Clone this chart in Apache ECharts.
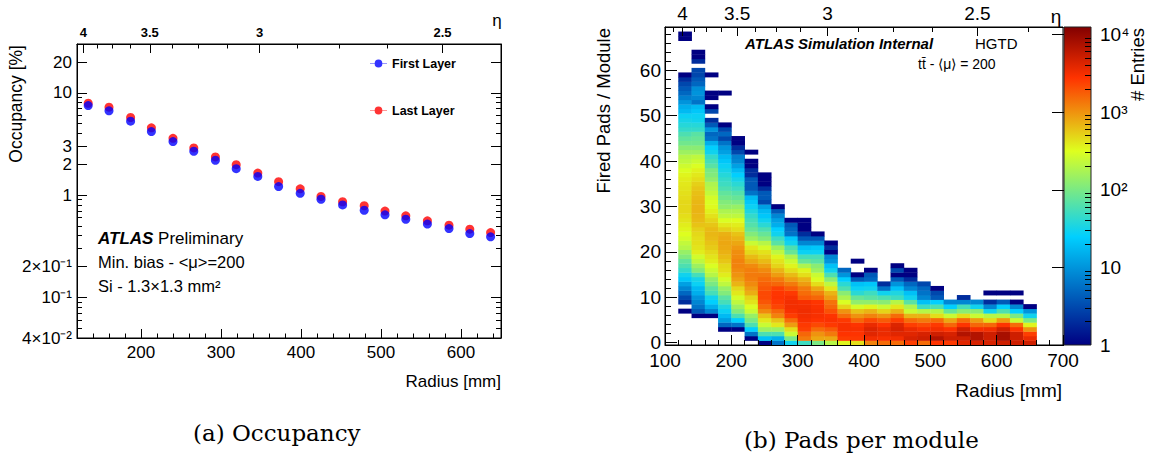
<!DOCTYPE html>
<html><head><meta charset="utf-8">
<script src="https://cdn.jsdelivr.net/npm/echarts@6/dist/echarts.min.js"></script>
<style>html,body{margin:0;padding:0;background:#fff;}#chart{width:1150px;height:459px;}</style>
</head><body><div id="chart"></div>
<script>
// ---------------- data: (a) Occupancy ----------------
const layerRadius = [134,160,187,213,240,266,293,319,346,372,399,425,452,479,505,531,558,585,611,637];
const firstLayer  = [7.5,6.66,5.28,4.18,3.33,2.68,2.19,1.81,1.52,1.21,1.04,0.91,0.80,0.71,0.64,0.58,0.52,0.47,0.42,0.39];
const lastLayer   = [7.9,7.24,5.73,4.54,3.59,2.89,2.36,1.98,1.64,1.35,1.15,0.97,0.86,0.786,0.697,0.627,0.56,0.508,0.464,0.43];
const occTicks    = [0.04,0.1,0.2,1,2,3,10,20];
const occTickText = ['4×10⁻²','10⁻¹','2×10⁻¹','1','2','3','10','20'];
const radiusTicksA = [200,300,400,500,600];
const etaLabels = [4,3.5,3,2.5];

// ---------------- data: (b) Pads per module ----------------
const binLow   = [120,140,160,180,200,220,240,260,280,300,320,340,360,380,400,420,440,460,480,500,520,540,560,580,600,620,640];
const firstBin = [7,6,6,3,3,1,0,0,0,0,0,0,0,0,0,0,0,0,0,0,0,0,0,0,0,0,0];
const r120 = [1,0,2,3,5,8,12,22,30,45,60,75,110,140,200,230,280,320,350,380,420,450,480,480,480,460,440,420,400,380,350,300,260,220,200,150,120,90,75,60,45,38,32,28,18,15,10,7,5,4,3,2,1,0,0,0,0,0,0,0,1,1];
const r140 = [1,4,6,8,10,15,18,28,32,55,110,150,220,270,380,420,450,450,480,520,600,650,680,700,700,680,650,620,580,520,450,400,360,300,250,220,150,120,90,80,70,45,38,30,28,22,18,6,8,10,9,5,4,3,3,0,2,1,1];
const r160 = [1,8,15,25,30,55,70,100,130,200,250,300,380,420,480,550,600,650,680,650,580,500,430,370,330,300,280,230,200,180,130,110,100,70,55,45,30,25,15,6,5,10,4,2,0,3,1,0,1,1,0,0,0,1];
const r180 = [1,5,12,18,28,35,55,70,110,140,220,280,380,450,480,580,650,720,780,800,780,720,520,400,300,220,180,130,110,90,75,60,50,45,38,32,28,22,18,12,10,6,3,5,3,1,0,0,0,0,0,0,1];
const r200 = [1,6,25,60,110,150,220,280,400,480,700,850,1000,1100,1200,1200,1100,1050,950,800,700,600,450,380,320,220,180,140,100,80,65,50,40,32,25,18,12,8,7,3,2,1,1];
const r220 = [1,6,25,60,100,140,250,300,420,500,750,900,1100,1250,1300,1250,1100,800,650,480,400,250,150,110,80,65,55,45,35,28,22,18,6,4,4,4,2,2,1,1,0,1];
const r240 = [1,20,60,150,250,400,600,1100,1500,1900,2200,2200,1900,1700,1500,1300,1100,850,650,520,430,280,200,110,80,60,40,30,22,18,12,3,4,4,2,1,1,1];
const r260 = [6,15,60,150,400,600,1200,1600,2300,2600,2800,2700,2400,1600,1300,900,700,500,420,350,220,150,70,50,30,25,15,12,8,4,1];
const r280 = [30,100,250,450,900,1500,2500,3000,3200,3200,3000,2600,1800,1300,900,650,450,350,250,180,80,60,30,22,6,5,4,1];
const r300 = [50,1300,1600,2400,2600,3000,3200,3300,3200,3000,1800,1500,1300,900,700,450,350,180,80,55,28,20,8,4,2,1,1,1];
const r320 = [100,800,1000,1500,2200,2800,3000,3000,2900,2700,1600,1200,800,450,300,250,150,120,70,55,28,22,8,4,1];
const r340 = [200,800,1300,1800,2600,2900,2800,2000,1600,1400,900,700,400,220,120,60,30,20,10,8,1,2,1];
const r360 = [350,2500,2800,3000,3000,2600,1500,1000,500,300,180,120,60,40,25,10,5];
const r380 = [450,2600,2800,3000,2800,1600,1000,600,280,130,80,40,28,20,4,1,0,0,1];
const r400 = [1200,3200,4000,4200,3500,2200,1200,700,350,130,70,50,30,22,5,4,1];
const r420 = [1500,3000,3500,3500,2800,1800,1000,500,250,120,60,30,6,2];
const r440 = [1500,3200,4000,4500,4200,2500,1500,700,400,200,50,35,20,10,4,1,3,1];
const r460 = [2500,4500,4000,3500,2500,1500,700,250,180,70,30,20,8,5,2,1,1];
const r480 = [1500,5000,4500,3000,2200,1300,700,200,50,20,8,6,5,3];
const r500 = [2800,7000,5000,3200,2600,1500,450,200,60,25,4,3,1];
const r520 = [2600,5000,4500,2800,1600,800,250,80,25,8];
const r540 = [4000,5000,7000,5000,2800,1500,450,120,55,8,2];
const r560 = [4500,7000,7000,3000,1600,900,250,120,30,8];
const r580 = [4500,5000,5000,3200,1600,450,200,30,8,2,0,1];
const r600 = [5000,8000,8000,5000,2800,900,200,60,25,4,0,1];
const r620 = [5000,5000,5000,2800,1500,250,100,25,8,1,0,1];
const r640 = [5000,3500,2500,1000,350,100,30,10,1];
const padTicks = [0,10,20,30,40,50,60];
const radiusTicksB = [100,200,300,400,500,600,700];
const entriesTicks = [1,10,100,1000,10000];
const entriesText = ['1','10','10²','10³','10⁴'];

// ---------------- layout / style constants ----------------
const FONT = '"Liberation Sans", Arial, Helvetica, sans-serif';
const SERIF = '"DejaVu Serif", serif';
const binWidth = 20;
const zMax = 12500;
const etaZA = 3490, etaZB = 3455;

const columns = [r120,r140,r160,r180,r200,r220,r240,r260,r280,r300,r320,r340,r360,r380,r400,r420,r440,r460,r480,r500,r520,r540,r560,r580,r600,r620,r640];
const cells = [];
columns.forEach((col, i) => col.forEach((n, j) => {
  if (n > 0) { const v = firstBin[i] + j; cells.push([binLow[i], binLow[i] + binWidth, v - 0.5, v + 0.5, n, Math.log10(n)]); }
}));

// ROOT-style rainbow palette
const pStops = [0,0.34,0.61,0.84,1], pR = [0,0,0.87,1,0.51], pG = [0,0.81,1,0.2,0], pB = [0.51,1,0.12,0,0];
function pal(f) {
  let k = 0; while (k < pStops.length - 2 && f > pStops[k+1]) k++;
  const t = (f - pStops[k]) / (pStops[k+1] - pStops[k]);
  const c = a => Math.round(255 * (a[k] + (a[k+1] - a[k]) * t));
  return 'rgb(' + c(pR) + ',' + c(pG) + ',' + c(pB) + ')';
}
const palColors = []; for (let i = 0; i <= 100; i++) palColors.push(pal(i / 100));
const gradStops = pStops.map((s, i) => ({offset: s, color: pal(s)}));

// tick helpers
const minorA = []; for (let r = 140; r < 650; r += 20) if (r % 100) minorA.push(r);
const minorB = []; for (let r = 120; r < 700; r += 20) if (r % 100) minorB.push(r);
const occMinor = [];
for (let n = -2; n <= 1; n++) for (let k = 1; k <= 9; k++) {
  const v = +(k * Math.pow(10, n)).toPrecision(6);
  if (v > 0.0401 && v < 29.9 && occTicks.indexOf(v) < 0) occMinor.push(v);
}
const padMinor = []; for (let v = 2; v <= 68; v += 2) if (v % 10) padMinor.push(v);
const entMinor = []; for (let n = 0; n <= 3; n++) for (let k = 2; k <= 9; k++) entMinor.push(k * Math.pow(10, n));
function etaMajor(Z) { return etaLabels.map(e => Z / Math.sinh(e)); }
function etaMinor(Z, lo, hi) {
  const out = [];
  for (let e = 4.375; e >= 2.125; e -= 0.125) { if (Math.abs(e * 2 - Math.round(e * 2)) > 1e-6) { const r = Z / Math.sinh(e); if (r > lo && r < hi) out.push(r); } }
  return out;
}
function etaFmt(Z) { return v => { let s = ''; etaLabels.forEach(e => { if (Math.abs(Z / Math.sinh(e) - v) < 0.01) s = String(e); }); return s; }; }
function lookupFmt(vals, texts) { return v => { let s = ''; vals.forEach((x, i) => { if (Math.abs(x - v) / x < 1e-4) s = texts[i]; }); return s; }; }

const blk = {color: '#000', width: 1};
function ax(o) {
  return Object.assign({type: 'value', z: 5, splitLine: {show: false}, axisLine: {show: false, onZero: false, lineStyle: blk}, axisPointer: {show: false}}, o);
}
function ticks(vals, len) { return {show: true, inside: true, length: len, customValues: vals, lineStyle: blk}; }
const noLabel = {show: false};

const chart = echarts.init(document.getElementById('chart'), null, {renderer: 'svg'});
const option = {
  animation: false,
  backgroundColor: '#fff',
  textStyle: {fontFamily: FONT},
  grid: [
    {left: 77, top: 44, width: 424, height: 294, show: true, borderColor: '#000', borderWidth: 1, backgroundColor: 'transparent'},
    {left: 665, top: 27, width: 398, height: 318, show: true, borderColor: '#000', borderWidth: 1, backgroundColor: 'transparent'},
    {left: 1064, top: 27, width: 27, height: 318, show: false}
  ],
  xAxis: [
    ax({gridIndex: 0, min: 120, max: 650, position: 'bottom', axisLine: {show: true, onZero: false, lineStyle: blk},
        axisTick: ticks(radiusTicksA, 9), axisLabel: {customValues: radiusTicksA, fontSize: 17, fontFamily: FONT, color: '#000', margin: 6}}),
    ax({gridIndex: 0, min: 120, max: 650, position: 'bottom', axisTick: ticks(minorA, 4.5), axisLabel: noLabel}),
    ax({gridIndex: 0, min: 120, max: 650, position: 'top', axisLine: {show: true, onZero: false, lineStyle: blk},
        axisTick: ticks(etaMajor(etaZA), 9), axisLabel: {customValues: etaMajor(etaZA), formatter: etaFmt(etaZA), fontSize: 13, fontWeight: 'bold', fontFamily: FONT, color: '#000', margin: 5}}),
    ax({gridIndex: 0, min: 120, max: 650, position: 'top', axisTick: ticks(etaMinor(etaZA, 120, 650), 4.5), axisLabel: noLabel}),
    ax({gridIndex: 1, min: 100, max: 700, position: 'bottom', axisLine: {show: true, onZero: false, lineStyle: blk},
        axisTick: ticks(radiusTicksB, 10), axisLabel: {customValues: radiusTicksB, fontSize: 19, lineHeight: 14, fontFamily: FONT, color: '#000', margin: 8}}),
    ax({gridIndex: 1, min: 100, max: 700, position: 'bottom', axisTick: ticks(minorB, 5), axisLabel: noLabel}),
    ax({gridIndex: 1, min: 100, max: 700, position: 'top', axisLine: {show: true, onZero: false, lineStyle: blk},
        axisTick: ticks(etaMajor(etaZB), 9), axisLabel: {customValues: etaMajor(etaZB), formatter: etaFmt(etaZB), fontSize: 19, fontFamily: FONT, color: '#000', margin: 4}}),
    ax({gridIndex: 1, min: 100, max: 700, position: 'top', axisTick: ticks(etaMinor(etaZB, 100, 700), 5), axisLabel: noLabel}),
    ax({gridIndex: 2, min: 0, max: 1, show: false})
  ],
  yAxis: [
    ax({gridIndex: 0, type: 'log', logBase: 10, min: 0.04, max: 30, position: 'left', axisLine: {show: true, onZero: false, lineStyle: blk},
        axisTick: ticks(occTicks, 10), axisLabel: {customValues: occTicks, formatter: lookupFmt(occTicks, occTickText), fontSize: 17, fontFamily: FONT, color: '#000', margin: 5}}),
    ax({gridIndex: 0, type: 'log', logBase: 10, min: 0.04, max: 30, position: 'left', axisTick: ticks(occMinor, 5), axisLabel: noLabel}),
    ax({gridIndex: 0, type: 'log', logBase: 10, min: 0.04, max: 30, position: 'right', axisLine: {show: true, onZero: false, lineStyle: blk}, axisTick: ticks(occTicks, 10), axisLabel: noLabel}),
    ax({gridIndex: 0, type: 'log', logBase: 10, min: 0.04, max: 30, position: 'right', axisTick: ticks(occMinor, 5), axisLabel: noLabel}),
    ax({gridIndex: 1, min: -0.5, max: 69.5, position: 'left', axisLine: {show: true, onZero: false, lineStyle: blk},
        axisTick: ticks(padTicks, 12), axisLabel: {customValues: padTicks, fontSize: 19, lineHeight: 13, fontFamily: FONT, color: '#000', margin: 4}}),
    ax({gridIndex: 1, min: -0.5, max: 69.5, position: 'left', axisTick: ticks(padMinor, 6), axisLabel: noLabel}),
    ax({gridIndex: 2, type: 'log', logBase: 10, min: 1, max: zMax, position: 'right', z: 20, axisLine: {show: false},
        axisTick: ticks(entriesTicks, 12), axisLabel: {customValues: entriesTicks, formatter: lookupFmt(entriesTicks, entriesText), fontSize: 19, fontFamily: FONT, color: '#000', margin: 9}}),
    ax({gridIndex: 2, type: 'log', logBase: 10, min: 1, max: zMax, position: 'right', z: 20, axisTick: ticks(entMinor, 6), axisLabel: noLabel})
  ],
  visualMap: [{type: 'continuous', show: false, seriesIndex: 2, dimension: 5, min: 0, max: Math.log10(zMax), inRange: {color: palColors}}],
  legend: [
    {data: ['First Layer'], left: 370, top: 57, padding: 0, itemWidth: 17, itemHeight: 8.5, icon: 'path://M0,4.2h5.5a4.5,4.5 0 1,1 9,0h5.5v0.6h-5.5a4.5,4.5 0 1,1 -9,0h-5.5z',
     textStyle: {fontSize: 12.5, fontWeight: 'bold', fontFamily: FONT, color: '#000'}, selectedMode: false},
    {data: ['Last Layer'], left: 370, top: 104, padding: 0, itemWidth: 17, itemHeight: 8.5, icon: 'path://M0,4.2h5.5a4.5,4.5 0 1,1 9,0h5.5v0.6h-5.5a4.5,4.5 0 1,1 -9,0h-5.5z',
     textStyle: {fontSize: 12.5, fontWeight: 'bold', fontFamily: FONT, color: '#000'}, selectedMode: false}
  ],
  series: [
    {name: 'Last Layer', type: 'scatter', xAxisIndex: 0, yAxisIndex: 0, symbol: 'circle', symbolSize: 9, itemStyle: {color: '#ff0000'},
     data: layerRadius.map((r, i) => [r, lastLayer[i]])},
    {name: 'First Layer', type: 'scatter', xAxisIndex: 0, yAxisIndex: 0, symbol: 'circle', symbolSize: 9, itemStyle: {color: '#0000ff'},
     data: layerRadius.map((r, i) => [r, firstLayer[i]])},
    {name: 'pads', type: 'custom', xAxisIndex: 4, yAxisIndex: 4, clip: true, data: cells,
     dimensions: ['x0', 'x1', 'y0', 'y1', 'n', 'logn'], encode: {x: [0, 1], y: [2, 3]},
     renderItem: (params, api) => {
       const a = api.coord([api.value(0), api.value(3)]);
       const b = api.coord([api.value(1), api.value(2)]);
       return {type: 'rect', shape: {x: a[0], y: a[1], width: b[0] - a[0] + 0.4, height: b[1] - a[1] + 0.4},
               style: {fill: api.visual('color'), stroke: null}};
     }}
  ],
  graphic: [
    {type: 'rect', z: 1, shape: {x: 1064, y: 27, width: 27, height: 318},
     style: {fill: new echarts.graphic.LinearGradient(0, 1, 0, 0, gradStops), stroke: '#222', lineWidth: 1}},
    {type: 'text', x: 15.5, y: 45, rotation: Math.PI / 2, style: {text: 'Occupancy [%]', font: '17.5px ' + FONT, fill: '#000', align: 'right', verticalAlign: 'middle'}},
    {type: 'text', x: 501, y: 381, style: {text: 'Radius [mm]', font: '17px ' + FONT, fill: '#000', align: 'right', verticalAlign: 'middle'}},
    {type: 'text', x: 497, y: 20, style: {text: 'η', font: '17px ' + FONT, fill: '#000', align: 'center', verticalAlign: 'middle'}},
    {type: 'text', x: 98, y: 238, style: {text: '{b|ATLAS}{n| Preliminary}', fill: '#000', verticalAlign: 'middle',
      rich: {b: {fontSize: 17, fontWeight: 'bold', fontStyle: 'italic', fontFamily: FONT}, n: {fontSize: 17, fontFamily: FONT}}}},
    {type: 'text', x: 98, y: 262, style: {text: 'Min. bias - <μ>=200', font: '16.5px ' + FONT, fill: '#000', verticalAlign: 'middle'}},
    {type: 'text', x: 98, y: 286, style: {text: 'Si - 1.3×1.3 mm²', font: '16.5px ' + FONT, fill: '#000', verticalAlign: 'middle'}},
    {type: 'text', x: 603, y: 28, rotation: Math.PI / 2, style: {text: 'Fired Pads / Module', font: '18.5px ' + FONT, fill: '#000', align: 'right', verticalAlign: 'middle'}},
    {type: 'text', x: 1062, y: 390, style: {text: 'Radius [mm]', font: '19px ' + FONT, fill: '#000', align: 'right', verticalAlign: 'middle'}},
    {type: 'text', x: 1056, y: 16, style: {text: 'η', font: '19px ' + FONT, fill: '#000', align: 'center', verticalAlign: 'middle'}},
    {type: 'text', x: 1137, y: 28, rotation: Math.PI / 2, style: {text: '# Entries', font: '18.5px ' + FONT, fill: '#000', align: 'right', verticalAlign: 'middle'}},
    {type: 'text', x: 745, y: 43, style: {text: 'ATLAS Simulation Internal', font: 'italic bold 15px ' + FONT, fill: '#000', verticalAlign: 'middle'}},
    {type: 'text', x: 975, y: 43, style: {text: 'HGTD', font: '15px ' + FONT, fill: '#000', verticalAlign: 'middle'}},
    {type: 'text', x: 918, y: 64, style: {text: 'tt\u0304 - ⟨μ⟩ = 200', font: '14px ' + FONT, fill: '#000', verticalAlign: 'middle'}},
    {type: 'text', x: 193, y: 433, style: {text: '(a) Occupancy', font: '23px ' + SERIF, fill: '#000', verticalAlign: 'middle'}},
    {type: 'text', x: 744, y: 440, style: {text: '(b) Pads per module', font: '23px ' + SERIF, fill: '#000', verticalAlign: 'middle'}}
  ]
};
chart.setOption(option);
</script></body></html>
